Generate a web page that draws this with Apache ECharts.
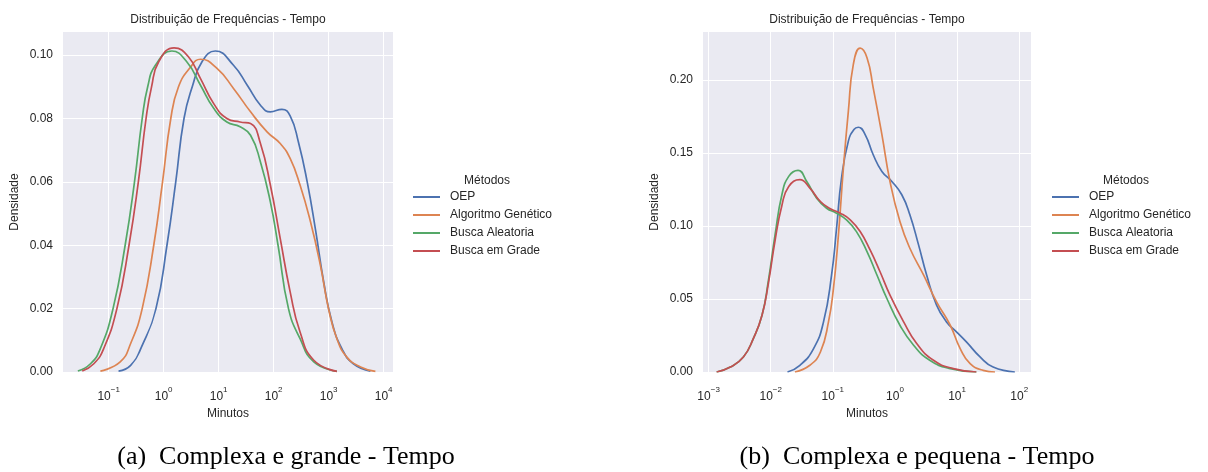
<!DOCTYPE html>
<html>
<head>
<meta charset="utf-8">
<script src="https://cdn.jsdelivr.net/npm/echarts@6/dist/echarts.min.js"></script>
<style>
  html, body { margin: 0; padding: 0; background: #ffffff; }
  #chart { width: 1208px; height: 472px; }
</style>
</head>
<body>
<div id="chart"></div>
<script>
// Method names and seaborn "deep" palette colours
const methods = ['OEP', 'Algoritmo Genético', 'Busca Aleatoria', 'Busca em Grade'];
const colors = ['#4C72B0', '#DD8452', '#55A868', '#C44E52'];

// Tick positions (powers of ten) and density ticks
const bigTicksX = [-1, 0, 1, 2, 3, 4];
const smallTicksX = [-3, -2, -1, 0, 1, 2];
const bigTicksY = [0, 0.02, 0.04, 0.06, 0.08, 0.10];
const smallTicksY = [0, 0.05, 0.10, 0.15, 0.20];

// (a) Complexa e grande: KDE curves, x = log10(minutos), y = densidade
const bigOepX = [-0.82, -0.6, -0.4, -0.14, 0.06, 0.22, 0.37, 0.52, 0.7, 0.94, 1.27, 1.52, 1.76, 1.94, 2.15, 2.30, 2.45, 2.61, 2.76, 2.91, 3.06, 3.24, 3.45, 3.76];
const bigOepY = [0.0003, 0.0021, 0.008, 0.02, 0.04, 0.06, 0.08, 0.09, 0.098, 0.1013, 0.0968, 0.0905, 0.0842, 0.0821, 0.0829, 0.0808, 0.0726, 0.060, 0.045, 0.0284, 0.0158, 0.0074, 0.0026, 0.0003];
const bigAgX = [-1.15, -0.79, -0.6, -0.39, -0.18, -0.02, 0.13, 0.27, 0.48, 0.67, 0.97, 1.27, 1.58, 1.88, 2.12, 2.30, 2.48, 2.67, 2.85, 3.0, 3.15, 3.33, 3.58, 3.85];
const bigAgY = [0.0003, 0.0032, 0.009, 0.02, 0.04, 0.06, 0.08, 0.09, 0.096, 0.0987, 0.0958, 0.0895, 0.0821, 0.0758, 0.0721, 0.0674, 0.059, 0.0474, 0.0337, 0.0198, 0.0105, 0.0047, 0.0016, 0.0002];
const bigBaX = [-1.56, -1.33, -1.15, -0.92, -0.70, -0.53, -0.39, -0.29, -0.15, 0.15, 0.42, 0.67, 0.91, 1.15, 1.39, 1.58, 1.76, 1.94, 2.08, 2.27, 2.48, 2.73, 3.15];
const bigBaY = [0.0003, 0.0026, 0.0074, 0.02, 0.04, 0.06, 0.08, 0.09, 0.0968, 0.1013, 0.0979, 0.0905, 0.0832, 0.0789, 0.0774, 0.0747, 0.0663, 0.0537, 0.04, 0.02, 0.0105, 0.0032, 0.0002];
const bigBgX = [-1.48, -1.27, -1.09, -0.85, -0.63, -0.46, -0.32, -0.22, -0.09, 0.19, 0.45, 0.67, 0.91, 1.15, 1.39, 1.58, 1.76, 1.94, 2.12, 2.30, 2.48, 2.73, 3.15];
const bigBgY = [0.0003, 0.0026, 0.0074, 0.02, 0.04, 0.06, 0.08, 0.09, 0.0979, 0.1023, 0.0995, 0.0926, 0.0847, 0.080, 0.0789, 0.0784, 0.0721, 0.059, 0.0421, 0.0253, 0.0126, 0.0037, 0.0002];

// (b) Complexa e pequena
const smallOepX = [-1.73, -1.53, -1.31, -1.15, -1.02, -0.94, -0.86, -0.75, -0.66, -0.59, -0.48, -0.35, -0.21, -0.05, 0.11, 0.24, 0.38, 0.51, 0.67, 0.83, 0.99, 1.15, 1.37, 1.58, 1.93];
const smallOepY = [0, 0.0046, 0.016, 0.0343, 0.0664, 0.0984, 0.1327, 0.158, 0.166, 0.1675, 0.1625, 0.1487, 0.1373, 0.1304, 0.1213, 0.1076, 0.087, 0.0664, 0.0458, 0.0343, 0.0275, 0.0206, 0.0103, 0.0034, 0];
const smallAgX = [-1.61, -1.37, -1.20, -1.07, -0.99, -0.91, -0.83, -0.75, -0.67, -0.56, -0.45, -0.35, -0.21, -0.08, 0.08, 0.24, 0.46, 0.67, 0.89, 1.05, 1.21, 1.42, 1.61];
const smallAgY = [0, 0.0046, 0.0137, 0.0343, 0.0572, 0.0938, 0.1396, 0.1785, 0.2105, 0.2216, 0.2151, 0.1945, 0.1625, 0.1304, 0.103, 0.0847, 0.0664, 0.048, 0.032, 0.016, 0.0057, 0.0011, 0];
const smallBaX = [-2.87, -2.65, -2.44, -2.28, -2.14, -2.04, -1.93, -1.82, -1.71, -1.56, -1.42, -1.26, -1.10, -0.94, -0.78, -0.62, -0.45, -0.29, -0.13, 0.08, 0.30, 0.56, 0.89, 1.31];
const smallBaY = [0, 0.0034, 0.0103, 0.0229, 0.0389, 0.0618, 0.0938, 0.1213, 0.1339, 0.138, 0.1304, 0.119, 0.1121, 0.1087, 0.1041, 0.0961, 0.0824, 0.0664, 0.0503, 0.032, 0.0183, 0.008, 0.0023, 0];
const smallBgX = [-2.87, -2.65, -2.44, -2.28, -2.14, -2.04, -1.93, -1.82, -1.71, -1.53, -1.37, -1.20, -1.04, -0.88, -0.72, -0.56, -0.40, -0.24, -0.08, 0.14, 0.35, 0.62, 0.94, 1.31];
const smallBgY = [0, 0.0034, 0.0103, 0.0229, 0.0389, 0.060, 0.090, 0.114, 0.127, 0.1316, 0.1259, 0.1167, 0.1117, 0.1087, 0.1041, 0.0961, 0.0835, 0.0686, 0.0526, 0.0343, 0.0195, 0.008, 0.0023, 0];

const FONT = '"Liberation Sans", Arial, sans-serif';
const TEXT = '#262626';

const zip = (xs, ys) => xs.map((x, i) => [x, ys[i]]);

const panels = [
  { grid: { left: 63, top: 32, width: 330, height: 340 }, xMin: -1.83, xMax: 4.17, yMax: 0.1073,
    xTicks: bigTicksX, yTicks: bigTicksY,
    curves: [[bigOepX, bigOepY], [bigAgX, bigAgY], [bigBaX, bigBaY], [bigBgX, bigBgY]],
    legendLeft: 413, headerX: 487, titleX: 228, caption: '(a)  Complexa e grande - Tempo', captionX: 286 },
  { grid: { left: 703, top: 32, width: 328, height: 340 }, xMin: -3.09, xMax: 2.19, yMax: 0.2327,
    xTicks: smallTicksX, yTicks: smallTicksY,
    curves: [[smallOepX, smallOepY], [smallAgX, smallAgY], [smallBaX, smallBaY], [smallBgX, smallBgY]],
    legendLeft: 1052, headerX: 1126, titleX: 867, caption: '(b)  Complexa e pequena - Tempo', captionX: 917 }
];

const supFmt = v => '{b|10}{s|' + String(Math.round(v)).replace('-', '\u2212') + '}';

const option = {
  animation: false,
  backgroundColor: '#ffffff',
  textStyle: { fontFamily: FONT },
  grid: panels.map(p => Object.assign({ show: true, backgroundColor: '#EAEAF2', borderWidth: 0 }, p.grid)),
  xAxis: panels.map((p, i) => ({
    type: 'value', gridIndex: i, min: p.xMin, max: p.xMax,
    name: 'Minutos', nameLocation: 'middle', nameGap: 35,
    nameTextStyle: { fontSize: 12, color: TEXT, fontFamily: FONT },
    axisLine: { show: false },
    axisTick: { show: false, customValues: p.xTicks },
    splitLine: { show: true, lineStyle: { color: '#ffffff', width: 1 } },
    axisLabel: {
      customValues: p.xTicks, margin: 14, formatter: supFmt,
      rich: {
        b: { fontSize: 12, color: TEXT, fontFamily: FONT, lineHeight: 22, verticalAlign: 'middle' },
        s: { fontSize: 8, color: TEXT, fontFamily: FONT, lineHeight: 8, verticalAlign: 'top' }
      }
    }
  })),
  yAxis: panels.map((p, i) => ({
    type: 'value', gridIndex: i, min: 0, max: p.yMax,
    name: 'Densidade', nameLocation: 'middle', nameGap: 42,
    nameTextStyle: { fontSize: 12, color: TEXT, fontFamily: FONT },
    axisLine: { show: false },
    axisTick: { show: false, customValues: p.yTicks },
    splitLine: { show: true, lineStyle: { color: '#ffffff', width: 1 } },
    axisLabel: { customValues: p.yTicks, margin: 10, fontSize: 12, color: TEXT, fontFamily: FONT,
                 formatter: v => v.toFixed(2) }
  })),
  legend: panels.map(p => ({
    orient: 'vertical', left: p.legendLeft, top: 190, padding: 0,
    itemWidth: 27, itemHeight: 2, itemGap: 4, icon: 'rect', selectedMode: false,
    data: methods,
    textStyle: { fontSize: 12, color: TEXT, fontFamily: FONT, lineHeight: 14, padding: [0, 0, 0, 5] }
  })),
  graphic: panels.flatMap(p => [
    { type: 'text', x: p.titleX, y: 20, style: { text: 'Distribuição de Frequências - Tempo',
      font: '12px ' + FONT, fill: TEXT, textAlign: 'center', textVerticalAlign: 'middle' } },
    { type: 'text', x: p.headerX, y: 181, style: { text: 'Métodos',
      font: '12px ' + FONT, fill: TEXT, textAlign: 'center', textVerticalAlign: 'middle' } },
    { type: 'text', x: p.captionX, y: 457, style: { text: p.caption,
      font: '26px "Liberation Serif", "Times New Roman", serif', fill: '#000000', textAlign: 'center', textVerticalAlign: 'middle' } }
  ]),
  series: panels.flatMap((p, gi) => p.curves.map((c, k) => ({
    type: 'line', name: methods[k], xAxisIndex: gi, yAxisIndex: gi,
    data: zip(c[0], c[1]), showSymbol: false, symbol: 'none',
    smooth: 0.5,
    lineStyle: { color: colors[k], width: 1.7 }, itemStyle: { color: colors[k] },
    z: 2
  })))
};

echarts.init(document.getElementById('chart'), null, { renderer: 'canvas' }).setOption(option);
</script>
</body>
</html>
